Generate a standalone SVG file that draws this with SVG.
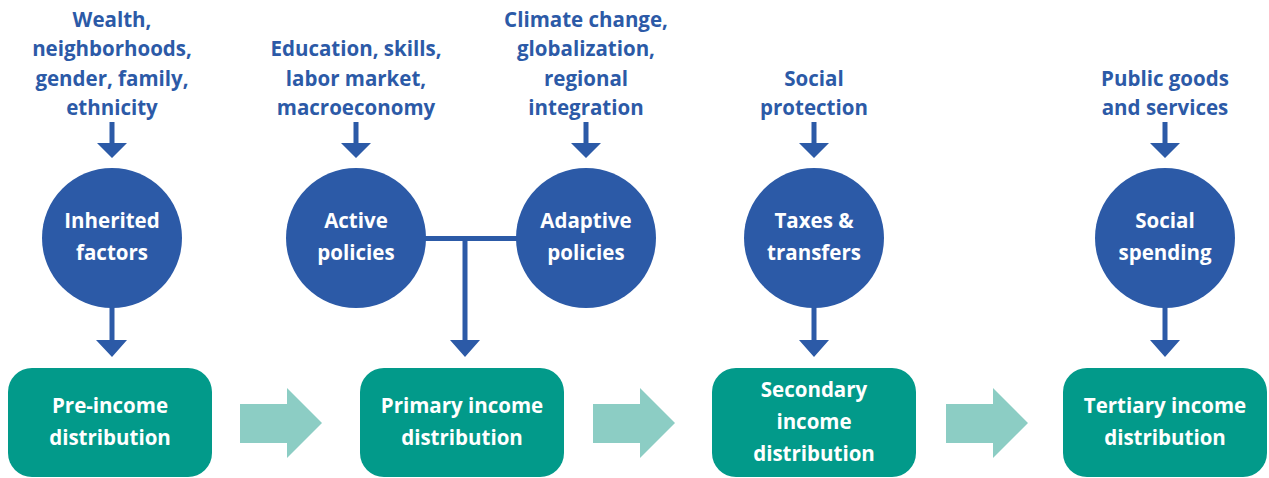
<svg xmlns="http://www.w3.org/2000/svg" width="1269" height="478" viewBox="0 0 1269 478">
<defs>
<style>
.lbl{font-family:"Open Sans","Liberation Sans",sans-serif;font-weight:700;font-size:20.5px;fill:#2c5aa7;text-anchor:middle}
.wt{font-family:"Open Sans","Liberation Sans",sans-serif;font-weight:700;font-size:20.5px;fill:#ffffff;text-anchor:middle}
.circ{fill:#2c5aa7}
.box{fill:#029a8a}
.big{fill:#8ccdc4}
.ln{stroke:#2c5aa7;stroke-width:5;fill:none}
.hd{fill:#2c5aa7}
</style>
</defs>
<rect width="1269" height="478" fill="#ffffff"/>
<g id="labels">
<text class="lbl"><tspan x="112" y="27">Wealth,</tspan><tspan x="112" y="56">neighborhoods,</tspan><tspan x="112" y="86">gender, family,</tspan><tspan x="112" y="115">ethnicity</tspan></text>
<text class="lbl"><tspan x="356" y="56">Education, skills,</tspan><tspan x="356" y="86">labor market,</tspan><tspan x="356" y="115">macroeconomy</tspan></text>
<text class="lbl"><tspan x="586" y="27">Climate change,</tspan><tspan x="586" y="56">globalization,</tspan><tspan x="586" y="86">regional</tspan><tspan x="586" y="115">integration</tspan></text>
<text class="lbl"><tspan x="814" y="86">Social</tspan><tspan x="814" y="115">protection</tspan></text>
<text class="lbl"><tspan x="1165" y="86">Public goods</tspan><tspan x="1165" y="115">and services</tspan></text>
</g>
<g id="connectors">
<path class="ln" d="M112 122V145M356 122V145M586 122V145M814 122V145M1165 122V145"/>
<path class="hd" d="M97 143H127L112 158ZM341 143H371L356 158ZM571 143H601L586 158ZM799 143H829L814 158ZM1150 143H1180L1165 158Z"/>
<path class="ln" d="M112 306V342M814 306V342M1165 306V342"/>
<path class="ln" d="M424 238.5H519M465 238.5V342"/>
<path class="hd" d="M96 340H127L112 357ZM799 340H829L814 357ZM1150 340H1180L1165 357ZM450 340H480L465 357Z"/>
<path class="big" d="M240 404H287V388L322 423L287 458V443H240Z"/>
<path class="big" d="M593 404H640V388L675 423L640 458V443H593Z"/>
<path class="big" d="M946 404H993V388L1028 423L993 458V443H946Z"/>
</g>
<g id="inherited"><circle class="circ" cx="112" cy="238" r="70"/><text class="wt"><tspan x="112" y="228">Inherited</tspan><tspan x="112" y="260">factors</tspan></text></g>
<g id="active"><circle class="circ" cx="356" cy="238" r="70"/><text class="wt"><tspan x="356" y="228">Active</tspan><tspan x="356" y="260">policies</tspan></text></g>
<g id="adaptive"><circle class="circ" cx="586" cy="238" r="70"/><text class="wt"><tspan x="586" y="228">Adaptive</tspan><tspan x="586" y="260">policies</tspan></text></g>
<g id="taxes"><circle class="circ" cx="814" cy="238" r="70"/><text class="wt"><tspan x="814" y="228">Taxes &amp;</tspan><tspan x="814" y="260">transfers</tspan></text></g>
<g id="social"><circle class="circ" cx="1165" cy="238" r="70"/><text class="wt"><tspan x="1165" y="228">Social</tspan><tspan x="1165" y="260">spending</tspan></text></g>
<g id="pre"><rect class="box" x="8" y="368" width="204" height="109" rx="24"/><text class="wt"><tspan x="110" y="413">Pre-income</tspan><tspan x="110" y="445">distribution</tspan></text></g>
<g id="primary"><rect class="box" x="360" y="368" width="204" height="109" rx="24"/><text class="wt"><tspan x="462" y="413">Primary income</tspan><tspan x="462" y="445">distribution</tspan></text></g>
<g id="secondary"><rect class="box" x="712" y="368" width="204" height="109" rx="24"/><text class="wt"><tspan x="814" y="397">Secondary</tspan><tspan x="814" y="429">income</tspan><tspan x="814" y="461">distribution</tspan></text></g>
<g id="tertiary"><rect class="box" x="1063" y="368" width="204" height="109" rx="24"/><text class="wt"><tspan x="1165" y="413">Tertiary income</tspan><tspan x="1165" y="445">distribution</tspan></text></g>
</svg>
